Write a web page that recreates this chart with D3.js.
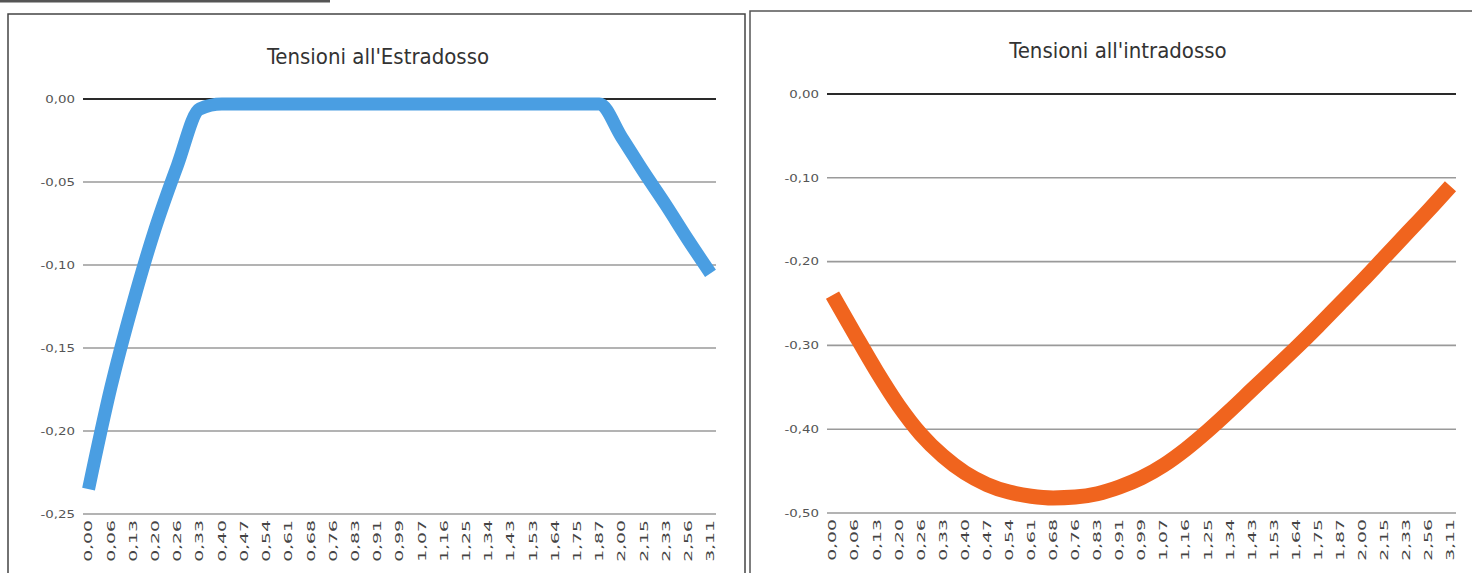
<!DOCTYPE html>
<html>
<head>
<meta charset="utf-8">
<script src="https://cdn.jsdelivr.net/npm/d3@7"></script>
<style>
  body { margin: 0; background: #fff; }
  svg text { font-family: "Liberation Sans Narrow", "DejaVu Sans Condensed", "Arial Narrow", sans-serif; }
</style>
</head>
<body>
<div id="chart"></div>
<script>
// ascisse (categorie) comuni ai due grafici
const ascisse = ["0,00","0,06","0,13","0,20","0,26","0,33","0,40","0,47","0,54","0,61",
  "0,68","0,76","0,83","0,91","0,99","1,07","1,16","1,25","1,34","1,43",
  "1,53","1,64","1,75","1,87","2,00","2,15","2,33","2,56","3,11"];

// tensioni all'estradosso
const estradosso = [-0.235,-0.174,-0.123,-0.078,-0.040,-0.006,-0.003,-0.003,-0.003,-0.003,
  -0.003,-0.003,-0.003,-0.003,-0.003,-0.003,-0.003,-0.003,-0.003,-0.003,
  -0.003,-0.003,-0.003,-0.003,-0.023,-0.044,-0.064,-0.085,-0.105];

// tensioni all'intradosso
const intradosso = [-0.240,-0.286,-0.331,-0.372,-0.406,-0.432,-0.452,-0.466,-0.475,-0.480,
  -0.482,-0.481,-0.477,-0.469,-0.458,-0.443,-0.424,-0.402,-0.378,-0.353,
  -0.328,-0.303,-0.277,-0.250,-0.223,-0.195,-0.167,-0.139,-0.110];

const tickEstr = [0, -0.05, -0.10, -0.15, -0.20, -0.25];
const tickIntr = [0, -0.10, -0.20, -0.30, -0.40, -0.50];

const W = 1472, H = 573;
const svg = d3.select("#chart").append("svg")
    .attr("width", W)
    .attr("height", H);

const fmt = d => d3.format(".2f")(d).replace(".", ",").replace("−", "-");

// cornici
svg.append("line").attr("x1", 0).attr("x2", 330).attr("y1", 1).attr("y2", 1)
    .attr("stroke", "#555").attr("stroke-width", 3);
svg.append("rect").attr("x", 8).attr("y", 14).attr("width", 737).attr("height", 580)
    .attr("fill", "none").attr("stroke", "#444").attr("stroke-width", 1.5);
svg.append("rect").attr("x", 750).attr("y", 11).attr("width", 740).attr("height", 580)
    .attr("fill", "none").attr("stroke", "#555").attr("stroke-width", 1.5);

function grafico(cfg) {
    const g = svg.append("g");

    const x = d3.scalePoint()
        .domain(d3.range(ascisse.length))
        .range([cfg.x0, cfg.x1])
        .padding(0.25);

    const y = d3.scaleLinear()
        .domain([cfg.min, 0])
        .range([cfg.yBottom, cfg.yTop]);

    // griglia
    g.selectAll("line.grid")
        .data(cfg.ticks)
        .enter()
        .append("line")
        .attr("x1", cfg.x0)
        .attr("x2", cfg.x1)
        .attr("y1", d => y(d))
        .attr("y2", d => y(d))
        .attr("stroke", d => d === 0 ? "#2a2a2a" : "#9a9a9a")
        .attr("stroke-width", d => d === 0 ? 2 : 1.6);

    // etichette asse y
    g.selectAll("text.ytick")
        .data(cfg.ticks)
        .enter()
        .append("text")
        .attr("transform", d => `translate(${cfg.x0 - 8},${y(d)}) scale(1.35,1)`)
        .attr("dy", "0.35em")
        .attr("text-anchor", "end")
        .attr("font-size", 11)
        .attr("fill", "#555")
        .text(fmt);

    // etichette asse x (ruotate, allungate come nello scatto)
    g.selectAll("text.xtick")
        .data(ascisse)
        .enter()
        .append("text")
        .attr("transform", (d, i) => `translate(${x(i)},${cfg.yBottom + 6}) rotate(-90) scale(1.9,1)`)
        .attr("dy", "0.35em")
        .attr("text-anchor", "end")
        .attr("font-size", 11)
        .attr("fill", "#444")
        .text(d => d);

    // titolo
    g.append("text")
        .attr("x", cfg.titleX)
        .attr("y", cfg.titleY)
        .attr("text-anchor", "middle")
        .attr("font-size", 22)
        .attr("fill", "#333")
        .text(cfg.title);

    const linea = d3.line()
        .x((d, i) => x(i))
        .y(d => y(d))
        .curve(d3.curveMonotoneX);

    g.append("path")
        .datum(cfg.values)
        .attr("d", linea)
        .attr("fill", "none")
        .attr("stroke", cfg.color)
        .attr("stroke-width", cfg.width)
        .attr("stroke-linejoin", "round")
        .attr("stroke-linecap", "butt");
}

grafico({
    title: "Tensioni all'Estradosso",
    values: estradosso,
    ticks: tickEstr,
    min: -0.25,
    x0: 83, x1: 716,
    yTop: 99, yBottom: 514,
    titleX: 378, titleY: 64,
    color: "#4a9ee2",
    width: 13
});

grafico({
    title: "Tensioni all'intradosso",
    values: intradosso,
    ticks: tickIntr,
    min: -0.5,
    x0: 827, x1: 1456,
    yTop: 94, yBottom: 513,
    titleX: 1118, titleY: 58,
    color: "#f0641e",
    width: 15
});
</script>
</body>
</html>
